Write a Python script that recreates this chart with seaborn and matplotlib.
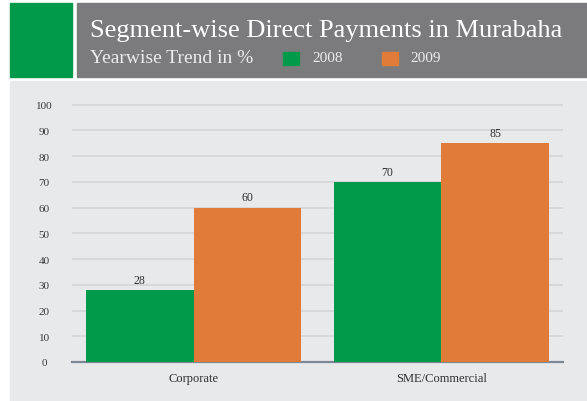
import matplotlib
matplotlib.use("Agg")
import matplotlib.pyplot as plt
from matplotlib.patches import Rectangle
import seaborn as sns
import pandas as pd

# Chart data
categories = ["Corporate", "SME/Commercial"]
years = ["2008", "2009"]
values_2008 = [28, 70]
values_2009 = [60, 85]
y_ticks = [0, 10, 20, 30, 40, 50, 60, 70, 80, 90, 100]

title = "Segment-wise Direct Payments in Murabaha"
subtitle = "Yearwise Trend in %"

GREEN = "#019a4b"
ORANGE = "#e07b3a"
BANNER = "#7b7b7d"
PANEL = "#e8e9eb"

df = pd.DataFrame({
    "segment": categories * 2,
    "year": [years[0]] * len(categories) + [years[1]] * len(categories),
    "value": values_2008 + values_2009,
})

sns.set_theme(style="white")
plt.rcParams["font.family"] = ["Liberation Serif", "DejaVu Serif"]

W, H = 587, 402
fig = plt.figure(figsize=(W / 100, H / 100), dpi=100)
fig.patch.set_facecolor("white")


def fx(px):
    return px / W


def fy(py):
    return 1 - py / H


# Background panel and header blocks
fig.patches.append(Rectangle((fx(10), fy(402)), fx(577), 320 / H,
                             transform=fig.transFigure, color=PANEL, zorder=0))
fig.patches.append(Rectangle((fx(10), fy(78)), fx(62), 74 / H,
                             transform=fig.transFigure, color=GREEN, zorder=0))
fig.patches.append(Rectangle((fx(77), fy(78)), fx(510), 74 / H,
                             transform=fig.transFigure, color=BANNER, zorder=0))

fig.text(fx(90), fy(31), title, color="white", fontsize=19,
         ha="left", va="center")
fig.text(fx(90), fy(59), subtitle, color="#ececec", fontsize=14,
         ha="left", va="center")
for sx, tx, col, lab in [(283, 312, GREEN, years[0]), (382, 410, ORANGE, years[1])]:
    fig.patches.append(Rectangle((fx(sx), fy(66)), fx(16), 13 / H,
                                 transform=fig.transFigure, color=col, zorder=1))
    fig.text(fx(tx), fy(59), lab, color="#ececec", fontsize=11,
             ha="left", va="center")

# Bar chart
top = 102
ax = fig.add_axes([fx(72), 1 - 363 / H, fx(563) - fx(72), 2.573 * top / H])
ax.set_zorder(5)
ax.set_facecolor("none")
sns.barplot(data=df, x="segment", y="value", hue="year", order=categories,
            hue_order=years, palette=[GREEN, ORANGE], saturation=1,
            width=0.87, edgecolor="none", linewidth=0, ax=ax, legend=False,
            zorder=3)
ax.set_ylim(0, top)
ax.set_xlim(-0.49, 1.49)
ax.set_yticks(y_ticks)
ax.yaxis.grid(True, color="#d3d4d8", linewidth=1.1, zorder=0)
ax.set_axisbelow(True)
for side in ["top", "right", "left"]:
    ax.spines[side].set_visible(False)
ax.spines["bottom"].set_color("#7c8893")
ax.spines["bottom"].set_linewidth(1.6)
ax.set_xlabel("")
ax.set_ylabel("")
ax.tick_params(axis="y", length=0, pad=20, labelsize=8, labelcolor="#3a3a3a")
ax.tick_params(axis="x", length=0, pad=7, labelsize=9, labelcolor="#2e2e2e")
for lab in ax.get_yticklabels():
    lab.set_horizontalalignment("center")

for cont in ax.containers:
    ax.bar_label(cont, fmt="%d", padding=3, fontsize=8.5, color="#2e2e2e")

fig.savefig("out.png", dpi=100, facecolor=fig.get_facecolor())
